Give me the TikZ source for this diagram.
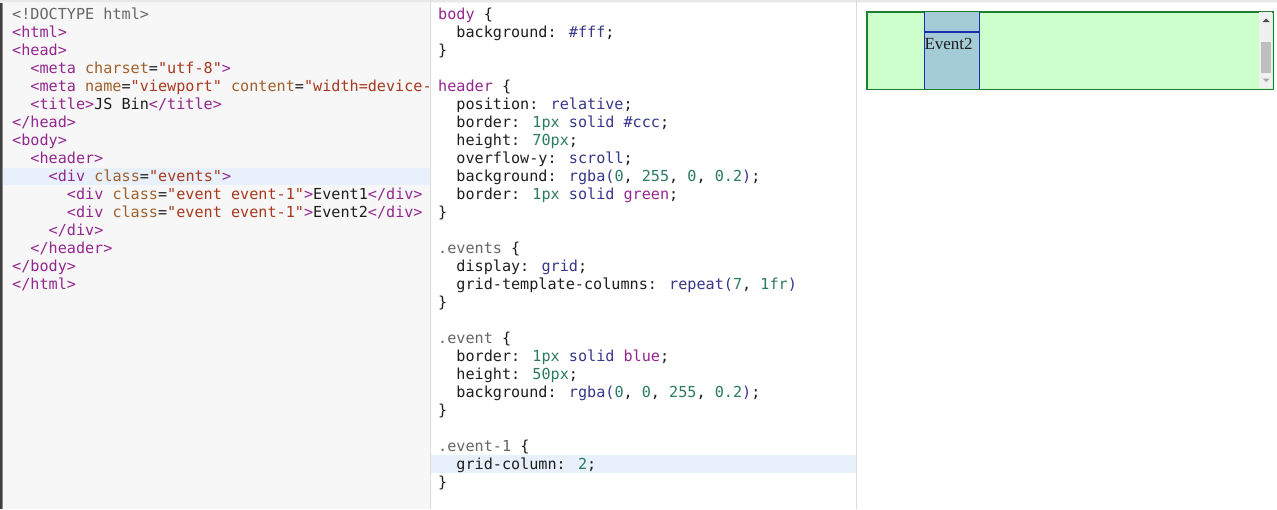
\documentclass[tikz,border=0pt]{standalone}
\usepackage{fontspec}
\usepackage{xcolor}
\usepackage{tikz}
\usetikzlibrary{positioning}
\newfontfamily\codefont{DejaVu Sans Mono}
\newfontfamily\pagefont{Liberation Serif}
\definecolor{txtcol}{HTML}{1E1E1E}
\definecolor{tagcol}{HTML}{93278F}
\definecolor{attcol}{HTML}{A0602B}
\definecolor{strcol}{HTML}{A8381E}
\definecolor{valcol}{HTML}{36368A}
\definecolor{numcol}{HTML}{2B7B5F}
\definecolor{greycol}{HTML}{666666}
\definecolor{htmlbg}{HTML}{F7F7F7}
\definecolor{hlcol}{HTML}{E8F0FB}
\definecolor{dividercol}{HTML}{DCDCDC}
\definecolor{hdrfill}{HTML}{CCFFCC}
\definecolor{hdrline}{HTML}{1F7F2F}
\definecolor{evfill}{HTML}{A3CCD6}
\definecolor{evline}{HTML}{1A2DB0}
\newcommand{\htag}[1]{\textcolor{tagcol}{#1}}
\newcommand{\hatt}[1]{\textcolor{attcol}{#1}}
\newcommand{\hstr}[1]{\textcolor{strcol}{#1}}
\newcommand{\cval}[1]{\textcolor{valcol}{#1}}
\newcommand{\cnum}[1]{\textcolor{numcol}{#1}}
\newcommand{\ckw}[1]{\textcolor{tagcol}{#1}}
\newcommand{\cgrey}[1]{\textcolor{greycol}{#1}}

\begin{document}
\begin{tikzpicture}[
    x=1pt, y=-1pt,
    codeline/.style={anchor=base west, inner sep=0pt, text=txtcol, font=\codefont\fontsize{15.15}{18}\selectfont},
    hlband/.style={fill=hlcol, draw=none},
    hdrbox/.style={rectangle, draw=hdrline, line width=1pt, fill=hdrfill, anchor=north west, inner sep=0pt},
    evbox/.style={rectangle, draw=evline, line width=1pt, fill=evfill, anchor=north west, inner sep=0pt, minimum width=55pt},
    evtext/.style={anchor=base west, inner sep=0pt, text=txtcol, font=\pagefont\fontsize{17}{20}\selectfont}
]
\useasboundingbox (0,0) rectangle (1277,509);

% Panels
\fill[white] (0,0) rectangle (1277,509);
\fill[htmlbg] (3,0) rectangle (430,509);
\fill[black!75] (0,0) rectangle (2,509);
\fill[black!45] (2,0) rectangle (3,509);
\fill[black!9] (0,0) rectangle (1277,1.5);
\fill[black!4] (0,1.5) rectangle (1277,3);
\draw[dividercol, line width=1pt] (430.5,0) -- (430.5,509);
\draw[dividercol, line width=1pt] (856.5,0) -- (856.5,509);

% Current line highlights
\fill[hlband] (3,167.5) rectangle (430,185);
\fill[hlband] (431,455) rectangle (856,473);

% HTML panel
\begin{scope}
\clip (3,0) rectangle (430,509);
\node[codeline] (h0) at (12,19) {\cgrey{<!DOCTYPE html>}};
\node[codeline] (h1) at (12,37) {\htag{<html>}};
\node[codeline] (h2) at (12,55) {\htag{<head>}};
\node[codeline] (h3) at (30.2,73) {\htag{<meta} \hatt{charset}=\hstr{"utf-8"}\htag{>}};
\node[codeline] (h4) at (30.2,91) {\htag{<meta} \hatt{name}=\hstr{"viewport"} \hatt{content}=\hstr{"width=device-}};
\node[codeline] (h5) at (30.2,109) {\htag{<title>}JS Bin\htag{</title>}};
\node[codeline] (h6) at (12,127) {\htag{</head>}};
\node[codeline] (h7) at (12,145) {\htag{<body>}};
\node[codeline] (h8) at (30.2,163) {\htag{<header>}};
\node[codeline] (h9) at (48.5,181) {\htag{<div} \hatt{class}=\hstr{"events"}\htag{>}};
\node[codeline] (h10) at (66.7,199) {\htag{<div} \hatt{class}=\hstr{"event event-1"}\htag{>}Event1\htag{</div>}};
\node[codeline] (h11) at (66.7,217) {\htag{<div} \hatt{class}=\hstr{"event event-1"}\htag{>}Event2\htag{</div>}};
\node[codeline] (h12) at (48.5,235) {\htag{</div>}};
\node[codeline] (h13) at (30.2,253) {\htag{</header>}};
\node[codeline] (h14) at (12,271) {\htag{</body>}};
\node[codeline] (h15) at (12,289) {\htag{</html>}};
\end{scope}

% CSS panel
\node[codeline] (c0) at (438,19) {\ckw{body} \{};
\node[codeline] (c1) at (456.2,37) {background: \cval{\#fff};};
\node[codeline] (c2) at (438,55) {\}};
\node[codeline] (c4) at (438,91) {\ckw{header} \{};
\node[codeline] (c5) at (456.2,109) {position: \cval{relative};};
\node[codeline] (c6) at (456.2,127) {border: \cnum{1px} \cval{solid} \cval{\#ccc};};
\node[codeline] (c7) at (456.2,145) {height: \cnum{70px};};
\node[codeline] (c8) at (456.2,163) {overflow-y: \cval{scroll};};
\node[codeline] (c9) at (456.2,181) {background: \cval{rgba(}\cnum{0}, \cnum{255}, \cnum{0}, \cnum{0.2}\cval{)};};
\node[codeline] (c10) at (456.2,199) {border: \cnum{1px} \cval{solid} \ckw{green};};
\node[codeline] (c11) at (438,217) {\}};
\node[codeline] (c13) at (438,253) {\cgrey{.events} \{};
\node[codeline] (c14) at (456.2,271) {display: \cval{grid};};
\node[codeline] (c15) at (456.2,289) {grid-template-columns: \cval{repeat(}\cnum{7}, \cnum{1fr}\cval{)}};
\node[codeline] (c16) at (438,307) {\}};
\node[codeline] (c18) at (438,343) {\cgrey{.event} \{};
\node[codeline] (c19) at (456.2,361) {border: \cnum{1px} \cval{solid} \ckw{blue};};
\node[codeline] (c20) at (456.2,379) {height: \cnum{50px};};
\node[codeline] (c21) at (456.2,397) {background: \cval{rgba(}\cnum{0}, \cnum{0}, \cnum{255}, \cnum{0.2}\cval{)};};
\node[codeline] (c22) at (438,415) {\}};
\node[codeline] (c24) at (438,451) {\cgrey{.event-1} \{};
\node[codeline] (c25) at (456.2,469) {grid-column: \cnum{2};};
\node[codeline] (c26) at (438,487) {\}};

% Output panel
\node[hdrbox, minimum width=406pt, minimum height=77pt] (hdr) at (866.5,11.5) {};
\begin{scope}
\clip (867,12) rectangle (1272,88.5);
\node[evbox, minimum height=22pt] (ev1) at (923.5,10) {};
\node[evbox, minimum height=57pt] (ev2) at (923.5,32) {};
\draw[evline, line width=2pt] (ev2.north west) -- (ev2.north east);
\end{scope}
\node[evtext] (ev2txt) at (924.3,49.5) {Event2};

% Scrollbar
\fill[black!6] (1259,12) rectangle (1272,88);
\fill[black!25] (1261,42) rectangle (1271,73);
\fill[black!70] (1262.5,22) -- (1269.5,22) -- (1266,18.5) -- cycle;
\fill[black!35] (1262.5,78.5) -- (1269.5,78.5) -- (1266,82) -- cycle;
\draw[hdrline, line width=1pt] (hdr.north west) rectangle (hdr.south east);

\end{tikzpicture}
\end{document}
